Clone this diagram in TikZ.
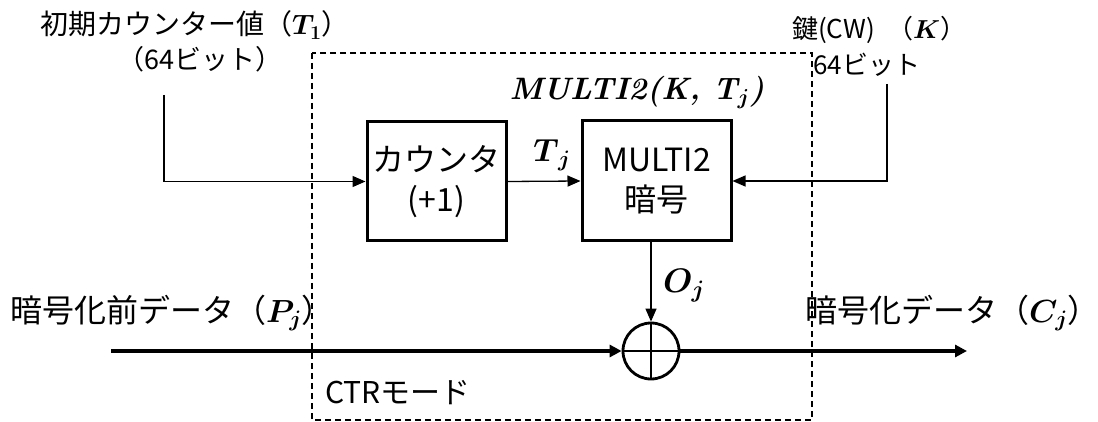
\RequirePackage{fix-cm}
\documentclass[tikz,border=0pt]{standalone}
\usepackage{fontspec}
\usepackage{tikz}
\usetikzlibrary{arrows.meta}
\newfontfamily\jp{Noto Sans CJK JP}

\begin{document}
\begin{tikzpicture}[x=1pt, y=-1pt,
  blocco/.style={draw, line width=3pt, inner sep=0pt, align=center,
    font=\fontsize{32}{40}\selectfont\jp},
  freccia/.style={line width=1.3pt, -{Triangle[length=13pt,width=11pt]}},
  dati/.style={line width=3.2pt, -{Triangle[length=12pt,width=12pt]}},
  testo/.style={inner sep=0pt, anchor=base west}]

% Area del disegno
\useasboundingbox (0,0) rectangle (1098,422);

% Modalita' CTR (riquadro tratteggiato)
\draw[line width=1.2pt, dash pattern=on 6pt off 4pt] (312,53) rectangle (812,420);

% Blocchi
\node[blocco, minimum width=139pt, minimum height=119pt] (cnt) at (436.5,181.5) {カウンタ\\(+1)};
\node[blocco, minimum width=149pt, minimum height=120pt] (enc) at (656.5,181) {MULTI2\\暗号};
\node[draw, circle, line width=2.8pt, inner sep=0pt, minimum size=56pt] (xr) at (651,351) {};
\draw[line width=2.8pt] (xr.north) -- (xr.south) (xr.west) -- (xr.east);

% Punti liberi
\coordinate (t1start) at (164,95);
\coordinate (kstart) at (887,84);
\coordinate (pstart) at (111,351);
\coordinate (cend) at (967,351);

% Collegamenti
\draw[freccia] (t1start) |- (cnt.west);
\draw[freccia] (cnt.east) -- (enc.west);
\draw[freccia] (kstart) |- (enc.east);
\draw[freccia] (xr.north |- enc.south) -- (xr.north);
\draw[dati] (pstart) -- (xr.west);
\draw[dati] (xr.east) -- (cend);

% Etichette
\node[testo, font=\fontsize{28}{34}\selectfont\jp] (lblT1) at (40,35) {初期カウンター値（{\boldmath$T_1$}）};
\node[testo, anchor=base, font=\fontsize{27}{34}\selectfont\jp] (lblbit) at (200,70) {（64ビット）};
\node[testo, font=\fontsize{26}{32}\selectfont\jp] (lblK) at (792,39) {鍵(CW)\hspace{12pt}（{\boldmath$K$}）};
\node[testo, font=\fontsize{26}{32}\selectfont\jp] (lblKbit) at (813,75) {64ビット};
\node[testo, anchor=base, font=\fontsize{31}{40}\selectfont\boldmath] (lblMulti) at (637,100) {\bfseries\itshape MULTI2(K, T$_{j}$)};
\node[testo, anchor=base, font=\fontsize{32}{38}\selectfont\boldmath] (lblTj) at (552,162) {$T_{\,j}$};
\node[testo, font=\fontsize{34}{40}\selectfont\boldmath] (lblOj) at (663,292) {$O_{j}$};
\node[testo, font=\fontsize{32}{40}\selectfont\jp] (lblP) at (10,322) {暗号化前データ（{\boldmath$P_j$}）};
\node[testo, font=\fontsize{32}{40}\selectfont\jp] (lblC) at (805,322) {暗号化データ（{\boldmath$C_j$}）};
\node[testo, font=\fontsize{30}{36}\selectfont\jp] (lblCtr) at (325,403) {CTRモード};

\end{tikzpicture}
\end{document}
